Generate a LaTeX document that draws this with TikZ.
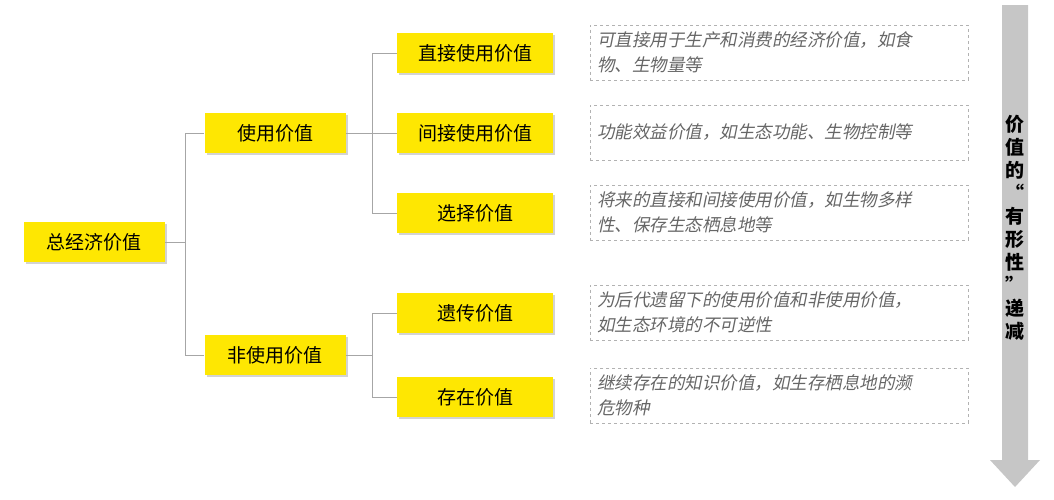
\documentclass[tikz,border=0pt]{standalone}
\usepackage{fontspec}
\newfontfamily\cjk{Noto Sans CJK SC}
\newfontfamily\cjki[FakeSlant=0.2]{Noto Sans CJK SC}
\usetikzlibrary{shadows}
\begin{document}
\begin{tikzpicture}[x=1pt,y=-1pt,
 ybox/.style={fill=yellow!90!orange, minimum width=141pt, minimum height=40pt, inner sep=0pt, font=\cjk\fontsize{19}{22}\selectfont, drop shadow={shadow xshift=2pt,shadow yshift=-2pt,opacity=0.35}},
 wbox/.style={ybox, minimum width=156pt},
 desc/.style={draw=gray!60, dashed, minimum width=378pt, minimum height=55pt, text width=364pt, align=left, inner sep=7pt, font=\cjki\fontsize{17.5}{25}\selectfont, text=gray!80!black},
 conn/.style={draw=gray!70, line width=0.8pt}]
\useasboundingbox (0,0) rectangle (1054,499);
\node[ybox] (tot) at (94,242) {总经济价值};
\node[ybox] (use) at (275,133) {使用价值};
\node[ybox] (non) at (275,355) {非使用价值};
\node[wbox] (a) at (475,53) {直接使用价值};
\node[wbox] (b) at (475,133) {间接使用价值};
\node[wbox] (c) at (475,213) {选择价值};
\node[wbox] (d) at (475,313) {遗传价值};
\node[wbox] (e) at (475,397) {存在价值};
\node[desc] (da) at (779,52.5) {可直接用于生产和消费的经济价值，如食\\物、生物量等};
\node[desc] (db) at (779,132.5) {功能效益价值，如生态功能、生物控制等};
\node[desc] (dc) at (779,212.5) {将来的直接和间接使用价值，如生物多样\\性、保存生态栖息地等};
\node[desc] (dd) at (779,312.5) {为后代遗留下的使用价值和非使用价值，\\如生态环境的不可逆性};
\node[desc] (de) at (779,395.5) {继续存在的知识价值，如生存栖息地的濒\\危物种};
\coordinate (j1) at (185,242);
\coordinate (j2) at (372,133);
\coordinate (j3) at (372,355);
\draw[conn] (tot.east) -- (j1) (j1|-use) -- (j1|-non) (j1|-use) -- (use.west) (j1|-non) -- (non.west);
\draw[conn] (use.east) -- (j2) (j2|-a) -- (j2|-c) (j2|-a) -- (a.west) (j2) -- (b.west) (j2|-c) -- (c.west);
\draw[conn] (non.east) -- (j3) (j3|-d) -- (j3|-e) (j3|-d) -- (d.west) (j3|-e) -- (e.west);
\fill[gray!45] (1002,5) -- (1028,5) -- (1028,460) -- (1040,460) -- (1015,487) -- (990,460) -- (1002,460) -- cycle;
\node[font=\cjk\bfseries\fontsize{19}{23}\selectfont, align=center] (arr) at (1015,228) {价\\值\\的\\“\\有\\形\\性\\”\\递\\减};
\end{tikzpicture}
\end{document}
